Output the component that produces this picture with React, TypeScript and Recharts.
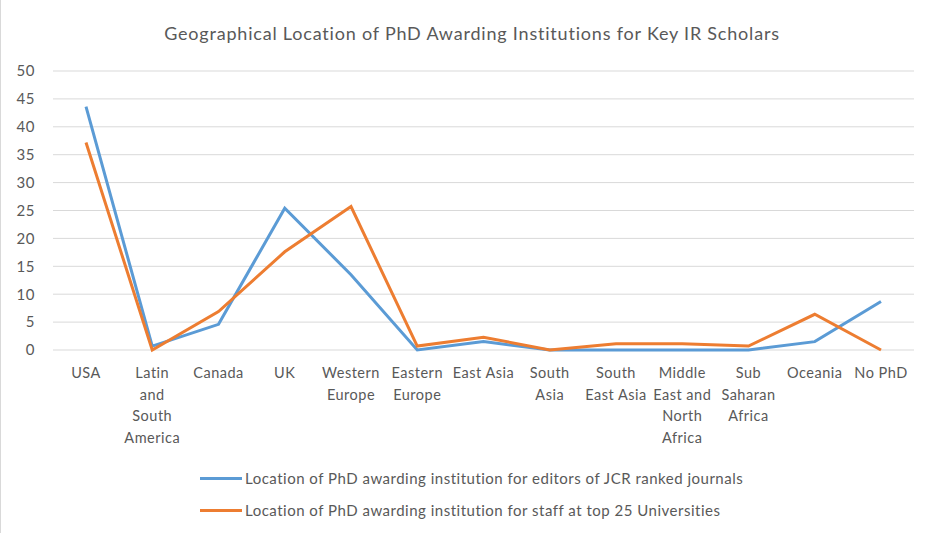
import { LineChart, Line, XAxis, YAxis, CartesianGrid, Legend } from 'recharts'

const regions = [
  'USA',
  'Latin\nand\nSouth\nAmerica',
  'Canada',
  'UK',
  'Western\nEurope',
  'Eastern\nEurope',
  'East Asia',
  'South\nAsia',
  'South\nEast Asia',
  'Middle\nEast and\nNorth\nAfrica',
  'Sub\nSaharan\nAfrica',
  'Oceania',
  'No PhD',
]
const editorsJCR = [43.6, 0.7, 4.6, 25.4, 13.5, 0, 1.5, 0, 0, 0, 0, 1.5, 8.7]
const staffTop25 = [37.2, 0, 6.9, 17.6, 25.7, 0.7, 2.3, 0, 1.1, 1.1, 0.7, 6.4, 0]
const yTicks = [0, 5, 10, 15, 20, 25, 30, 35, 40, 45, 50]

const editorsName = 'Location of PhD awarding institution for editors of JCR ranked journals'
const staffName = 'Location of PhD awarding institution for staff at top 25 Universities'

const data = regions.map((r, i) => ({ region: r, editors: editorsJCR[i], staff: staffTop25[i] }))

const FONT = 'Lato, "Open Sans", sans-serif'
const TEXT = '#595959'

function RegionTick(props: any) {
  const { x, y, payload } = props
  const lines = String(payload.value).split('\n')
  return (
    <text x={x} y={y} textAnchor="middle" fill={TEXT} fontSize={14.5} fontFamily={FONT} letterSpacing={0.5}>
      {lines.map((l, i) => (
        <tspan key={i} x={x} dy={i === 0 ? 14 : 21.5}>
          {l}
        </tspan>
      ))}
    </text>
  )
}

function LegendBox(props: any) {
  const items = props.payload || []
  return (
    <div style={{ fontFamily: FONT, fontSize: 15, color: TEXT, letterSpacing: 0.5 }}>
      {items.map((it: any, i: number) => (
        <div key={i} style={{ display: 'flex', alignItems: 'center', height: 32 }}>
          <span style={{ display: 'inline-block', width: 42, height: 3, background: it.color, marginRight: 3 }} />
          <span>{it.value}</span>
        </div>
      ))}
    </div>
  )
}

export default function App() {
  return (
    <div style={{ position: 'absolute', left: 0, top: 0, width: 930, height: 533, background: '#fff', borderLeft: '1px solid #d9d9d9', boxSizing: 'border-box' }}>
      <div
        style={{
          position: 'absolute',
          top: 22,
          left: 0,
          width: 942,
          textAlign: 'center',
          fontFamily: FONT,
          fontSize: 18,
          letterSpacing: 0.8,
          color: TEXT,
        }}
      >
        Geographical Location of PhD Awarding Institutions for Key IR Scholars
      </div>
      <LineChart width={929} height={533} data={data} margin={{ top: 71, right: 16, left: 0, bottom: 83 }}>
        <CartesianGrid vertical={false} stroke="#d9d9d9" strokeWidth={1} />
        <XAxis
          dataKey="region"
          interval={0}
          axisLine={false}
          tickLine={false}
          tick={<RegionTick />}
          height={100}
          padding={{ left: 33, right: 33 }}
          tickMargin={8}
        />
        <YAxis
          domain={[0, 50]}
          ticks={yTicks}
          interval={0}
          width={52}
          axisLine={false}
          tickLine={false}
          tickSize={0}
          tickMargin={18}
          tick={{ fill: TEXT, fontSize: 15, fontFamily: FONT, letterSpacing: 0.5 }}
        />
        <Legend
          layout="vertical"
          verticalAlign="middle"
          align="center"
          content={<LegendBox />}
          wrapperStyle={{ left: 199, top: 462, width: 640 }}
        />
        <Line
          name={editorsName}
          dataKey="editors"
          stroke="#5b9bd5"
          strokeWidth={3}
          dot={false}
          isAnimationActive={false}
        />
        <Line
          name={staffName}
          dataKey="staff"
          stroke="#ed7d31"
          strokeWidth={3}
          dot={false}
          isAnimationActive={false}
        />
      </LineChart>
    </div>
  )
}
